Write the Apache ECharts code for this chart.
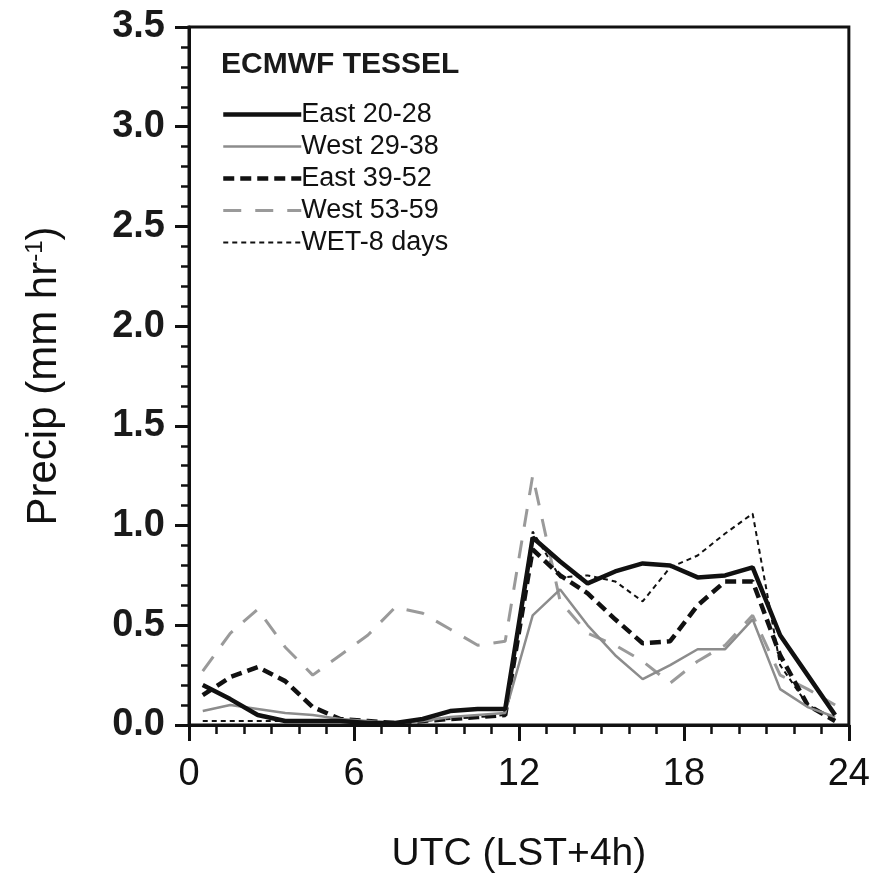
<!DOCTYPE html>
<html>
<head>
<meta charset="utf-8">
<script src="https://cdn.jsdelivr.net/npm/echarts@6/dist/echarts.min.js"></script>
<style>html,body{margin:0;padding:0;background:#fff}#c{width:873px;height:883px}</style>
</head>
<body>
<div id="c"></div>
<script>
var hours = [0.5,1.5,2.5,3.5,4.5,5.5,6.5,7.5,8.5,9.5,10.5,11.5,12.5,13.5,14.5,15.5,16.5,17.5,18.5,19.5,20.5,21.5,22.5,23.5];
var seriesNames = ['East 20-28','West 29-38','East 39-52','West 53-59','WET-8 days'];
var east2028 = [0.20,0.13,0.05,0.02,0.02,0.02,0.01,0.01,0.03,0.07,0.08,0.08,0.94,0.82,0.71,0.77,0.81,0.80,0.74,0.75,0.79,0.45,0.25,0.05];
var west2938 = [0.07,0.10,0.08,0.06,0.05,0.03,0.02,0.01,0.02,0.04,0.05,0.06,0.55,0.68,0.50,0.35,0.23,0.30,0.38,0.38,0.53,0.18,0.09,0.04];
var east3952 = [0.15,0.24,0.29,0.22,0.09,0.03,0.02,0.01,0.02,0.03,0.04,0.05,0.88,0.75,0.66,0.53,0.41,0.42,0.60,0.72,0.72,0.35,0.10,0.02];
var west5359 = [0.27,0.46,0.58,0.39,0.25,0.35,0.45,0.59,0.56,0.48,0.40,0.42,1.25,0.62,0.46,0.40,0.32,0.21,0.32,0.40,0.55,0.25,0.18,0.10];
var wet8 = [0.02,0.02,0.02,0.02,0.02,0.02,0.01,0.01,0.02,0.03,0.04,0.05,0.97,0.74,0.75,0.72,0.62,0.79,0.85,0.96,1.06,0.30,0.10,0.03];
var yTicks = ['0.0','0.5','1.0','1.5','2.0','2.5','3.0','3.5'];
var xTicks = ['0','6','12','18','24'];

function pairs(v){ return hours.map(function(h,i){ return [h, v[i]]; }); }

var styles = [
  {color:'#111', width:4.5, type:'solid'},
  {color:'#8c8c8c', width:2.5, type:'solid'},
  {color:'#111', width:4.5, type:[11,6]},
  {color:'#9a9a9a', width:3, type:[18,14]},
  {color:'#111', width:2, type:[5,4]}
];
var values = [east2028, west2938, east3952, west5359, wet8];

var chart = echarts.init(document.getElementById('c'), null, {renderer:'canvas'});
var font = 'Liberation Sans, Arial, sans-serif';
chart.setOption({
  animation:false,
  backgroundColor:'#fff',
  title:{ text:'ECMWF TESSEL', left:216, top:45, textStyle:{fontSize:30, fontWeight:'bold', color:'#1a1a1a', fontFamily:font} },
  legend:{
    orient:'vertical', left:216, top:96, itemWidth:78, itemHeight:14, itemGap:5,
    data:seriesNames.map(function(n,i){
      return {name:n, itemStyle:{opacity:0}, lineStyle:{color:styles[i].color, width:styles[i].width, type:styles[i].type}};
    }),
    itemStyle:{opacity:0},
    textStyle:{fontSize:27, color:'#111', fontFamily:font, lineHeight:27, padding:[0,0,0,-5]},
    selectedMode:false
  },
  grid:{ left:189, right:23, top:27, bottom:158, show:true, borderColor:'#111', borderWidth:3 },
  xAxis:{
    type:'value', min:0, max:24, interval:6,
    axisLine:{show:true, lineStyle:{color:'#111', width:3}},
    axisTick:{show:true, length:16, lineStyle:{color:'#111', width:3}},
    minorTick:{show:true, splitNumber:6, length:9, lineStyle:{color:'#111', width:2.5}},
    splitLine:{show:false},
    axisLabel:{margin:31, fontSize:38, color:'#111', fontFamily:font, formatter:function(v){ return xTicks[Math.round(v/6)]; }},
    name:'UTC (LST+4h)', nameLocation:'middle', nameGap:110,
    nameTextStyle:{fontSize:39, color:'#111', fontFamily:font}
  },
  yAxis:{
    type:'value', min:0, max:3.5, interval:0.5,
    axisLine:{show:true, lineStyle:{color:'#111', width:3}},
    axisTick:{show:true, length:14, lineStyle:{color:'#111', width:3}},
    minorTick:{show:true, splitNumber:5, length:8, lineStyle:{color:'#111', width:2.5}},
    splitLine:{show:false},
    axisLabel:{margin:24, fontSize:38, fontWeight:'bold', color:'#1a1a1a', fontFamily:font, formatter:function(v){ return yTicks[Math.round(v/0.5)]; }},
    name:'Precip (mm hr{sup|-1})', nameLocation:'middle', nameGap:124, nameRotate:90,
    nameTextStyle:{fontSize:42, color:'#111', fontFamily:font, rich:{sup:{fontSize:24, color:'#111', fontFamily:font, verticalAlign:'top', padding:[0,0,16,0]}}}
  },
  series: seriesNames.map(function(n,i){
    return { name:n, type:'line', data:pairs(values[i]), symbol:'none', showSymbol:false,
      lineStyle:{color:styles[i].color, width:styles[i].width, type:styles[i].type},
      itemStyle:{color:styles[i].color}, z: 10-i };
  })
});
</script>
</body>
</html>
